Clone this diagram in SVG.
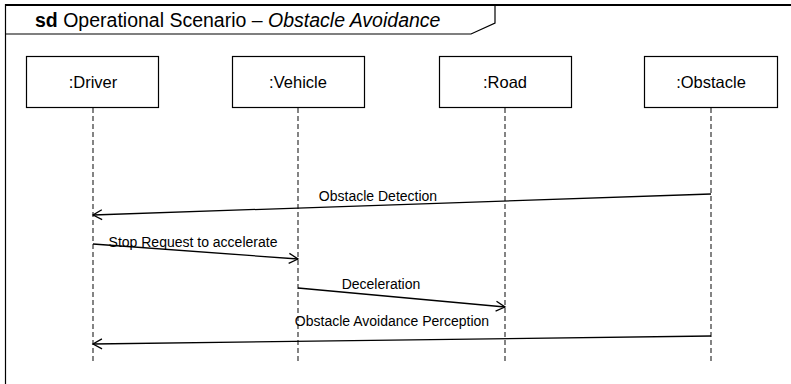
<svg xmlns="http://www.w3.org/2000/svg" width="791" height="384" viewBox="0 0 791 384">
  <style>
    .frame { fill: none; stroke: #000; }
    .box { fill: #fff; stroke: #000; stroke-width: 1.2; }
    .lifeline { stroke: #333; stroke-width: 1.2; stroke-dasharray: 5 3; fill: none; }
    .msg { stroke: #000; stroke-width: 1.3; fill: none; marker-end: url(#open); }
    .label { font-family: "Liberation Sans", Arial, sans-serif; font-size: 16.5px; fill: #000; text-anchor: middle; }
    .mlabel { font-family: "Liberation Sans", Arial, sans-serif; font-size: 14px; fill: #000; text-anchor: middle; }
    .title { font-family: "Liberation Sans", Arial, sans-serif; font-size: 19.5px; fill: #000; }
  </style>
  <defs>
    <marker id="open" markerWidth="12" markerHeight="12" refX="10" refY="6" orient="auto" markerUnits="userSpaceOnUse">
      <path d="M1,1 L10,6 L1,11" fill="none" stroke="#000" stroke-width="1.3"/>
    </marker>
  </defs>

  <rect width="791" height="384" fill="#fff"/>

  <!-- sequence diagram frame with name tab -->
  <g id="frame">
    <line class="frame" x1="5" y1="5" x2="791" y2="5" stroke-width="2.2"/>
    <line class="frame" x1="5.5" y1="4" x2="5.5" y2="384" stroke-width="1.2"/>
    <path class="frame" d="M5.5,34 L471,34 L495,23 L495,5" stroke-width="1.2"/>
    <text class="title" x="35" y="27"><tspan font-weight="bold">sd</tspan> Operational Scenario – <tspan font-style="italic">Obstacle Avoidance</tspan></text>
  </g>

  <!-- lifelines -->
  <g id="driver">
    <line class="lifeline" x1="93" y1="108" x2="93" y2="364"/>
    <rect class="box" x="26.5" y="56.5" width="132" height="51"/>
    <text class="label" x="93" y="88">:Driver</text>
  </g>
  <g id="vehicle">
    <line class="lifeline" x1="298" y1="108" x2="298" y2="364"/>
    <rect class="box" x="232.5" y="56.5" width="132" height="51"/>
    <text class="label" x="298" y="88">:Vehicle</text>
  </g>
  <g id="road">
    <line class="lifeline" x1="505" y1="108" x2="505" y2="364"/>
    <rect class="box" x="439.5" y="56.5" width="132" height="51"/>
    <text class="label" x="505" y="88">:Road</text>
  </g>
  <g id="obstacle">
    <line class="lifeline" x1="711" y1="108" x2="711" y2="364"/>
    <rect class="box" x="644.5" y="56.5" width="133" height="51"/>
    <text class="label" x="711" y="88">:Obstacle</text>
  </g>

  <!-- messages -->
  <g id="messages">
    <line class="msg" x1="711" y1="194" x2="93" y2="215"/>
    <text class="mlabel" x="378" y="201">Obstacle Detection</text>

    <line class="msg" x1="93" y1="244" x2="298" y2="259"/>
    <text class="mlabel" x="193" y="247">Stop Request to accelerate</text>

    <line class="msg" x1="298" y1="288" x2="505" y2="307"/>
    <text class="mlabel" x="381" y="289">Deceleration</text>

    <line class="msg" x1="711" y1="336" x2="93" y2="344"/>
    <text class="mlabel" x="392" y="326">Obstacle Avoidance Perception</text>
  </g>
</svg>
